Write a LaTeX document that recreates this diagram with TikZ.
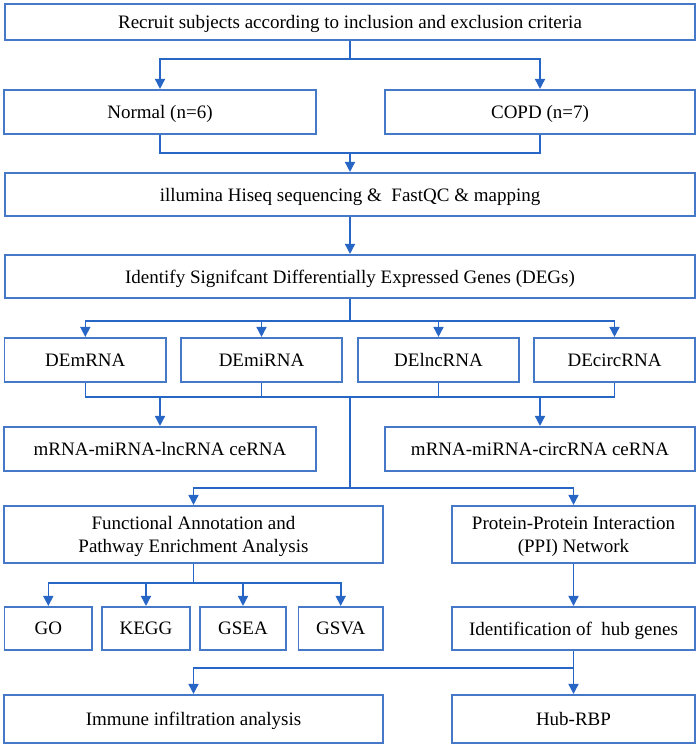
\documentclass[tikz,border=0pt]{standalone}
\usepackage{fontspec}
\setmainfont{Liberation Serif}
\usetikzlibrary{arrows.meta}
\definecolor{boxblue}{RGB}{70,120,200}
\definecolor{lineblue}{RGB}{40,102,198}
\begin{document}
\begin{tikzpicture}[x=1bp,y=-1bp,
  box/.style={draw=boxblue, line width=1.6bp, inner sep=0pt, align=center,
    font=\fontsize{19bp}{22.7bp}\selectfont, text=black, text depth=0bp},
  sz/.style 2 args={minimum width=#1bp, minimum height=#2bp},
  conn/.style={draw=lineblue, line width=1.6bp},
  arr/.style={conn, -{Triangle[length=10bp,width=10bp]}}]
\useasboundingbox (0,0) rectangle (699,748);

% boxes
\node[box, sz={690.5}{36.5}] (recruit) at (350,22) {Recruit subjects according to inclusion and exclusion criteria};
\node[box, sz={311.5}{44.5}] (normal) at (160,112) {Normal (n=6)};
\node[box, sz={310.5}{44.5}] (copd) at (540,112) {COPD (n=7)};
\node[box, sz={690.5}{43.5}] (illumina) at (350,194.5) {illumina Hiseq sequencing \&\ \ FastQC \& mapping};
\node[box, sz={690.5}{43.5}] (degs) at (350,276.5) {Identify Signifcant Differentially Expressed Genes (DEGs)};
\node[box, sz={161.5}{44.5}] (demrna) at (85.3,360) {DEmRNA};
\node[box, sz={161.5}{44.5}] (demirna) at (261.5,360) {DEmiRNA};
\node[box, sz={161.5}{44.5}] (delnc) at (438.5,360) {DElncRNA};
\node[box, sz={161.5}{44.5}] (decirc) at (614.5,360) {DEcircRNA};
\node[box, sz={311.5}{44.5}] (lcerna) at (160,449) {mRNA-miRNA-lncRNA ceRNA};
\node[box, sz={310.5}{44.5}] (rcerna) at (540,449) {mRNA-miRNA-circRNA ceRNA};
\node[box, sz={378.5}{57.5}] (func) at (193.5,534.5) {Functional Annotation and\\Pathway Enrichment Analysis};
\node[box, sz={243.5}{57.5}] (ppi) at (573.5,534.5) {Protein-Protein Interaction\\(PPI) Network};
\node[box, sz={87.5}{43.5}] (go) at (48.3,628.5) {GO};
\node[box, sz={87.5}{43.5}] (kegg) at (146,628.5) {KEGG};
\node[box, sz={86.5}{43.5}] (gsea) at (243,628.5) {GSEA};
\node[box, sz={84.5}{43.5}] (gsva) at (340.7,628.5) {GSVA};
\node[box, sz={243.5}{43.5}] (hub) at (573.5,628.5) {Identification of\ \ hub genes};
\node[box, sz={378.5}{48.5}] (immune) at (193.5,719) {Immune infiltration analysis};
\node[box, sz={243.5}{48.5}] (hubrbp) at (573.5,719) {Hub-RBP};

% junctions
\coordinate (j1) at (350,59);
\coordinate (j2) at (350,153);
\coordinate (j3) at (350,321);
\coordinate (j4) at (350,397);
\coordinate (j5) at (350,488);
\coordinate (j6) at (193.5,583);
\coordinate (j7) at (573.5,668);

% connectors
\draw[conn] (recruit.south) -- (j1);
\draw[arr] (j1) -| (normal.north);
\draw[arr] (j1) -| (copd.north);

\draw[conn] (normal.south) |- (j2) -| (copd.south);
\draw[arr] (j2) -- (illumina.north);

\draw[arr] (illumina.south) -- (degs.north);

\draw[conn] (degs.south) -- (j3);
\draw[arr] (j3) -| (demrna.north);
\draw[arr] (j3) -| (demirna.north);
\draw[arr] (j3) -| (delnc.north);
\draw[arr] (j3) -| (decirc.north);

\draw[conn] (demrna.south) |- (j4) -| (decirc.south);
\draw[conn] (demirna.south) -- (demirna.south |- j4);
\draw[conn] (delnc.south) -- (delnc.south |- j4);
\draw[arr] (j4 -| lcerna.north) -- (lcerna.north);
\draw[arr] (j4 -| rcerna.north) -- (rcerna.north);

\draw[conn] (j4) -- (j5);
\draw[arr] (j5) -| (func.north);
\draw[arr] (j5) -| (ppi.north);

\draw[conn] (func.south) -- (j6);
\draw[arr] (j6) -| (go.north);
\draw[arr] (j6) -| (kegg.north);
\draw[arr] (j6) -| (gsea.north);
\draw[arr] (j6) -| (gsva.north);

\draw[arr] (ppi.south) -- (hub.north);

\draw[arr] (hub.south) -- (hubrbp.north);
\draw[arr] (j7) -| (immune.north);
\end{tikzpicture}
\end{document}
